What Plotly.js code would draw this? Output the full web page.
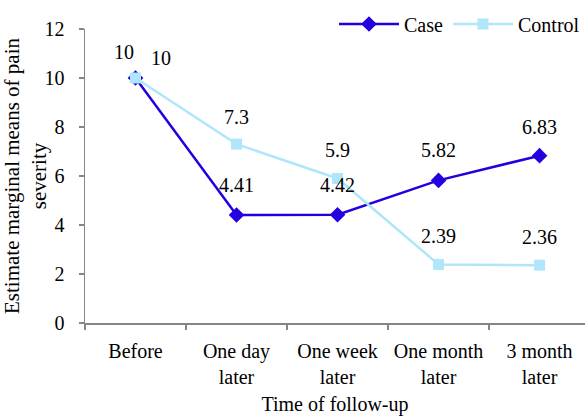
<!DOCTYPE html>
<html>
<head>
<meta charset="utf-8">
<script src="https://cdn.plot.ly/plotly-3.0.1.min.js"></script>
<style>
html,body{margin:0;padding:0;background:#fff;}
#chart{width:585px;height:417px;}
</style>
</head>
<body>
<div id="chart"></div>
<script>
var categories = ["Before", "One day<br>later", "One week<br>later", "One month<br>later", "3 month<br>later"];
var caseValues = [10, 4.41, 4.42, 5.82, 6.83];
var controlValues = [10, 7.3, 5.9, 2.39, 2.36];
var caseLabels = ["10", "4.41", "4.42", "5.82", "6.83"];
var controlLabels = ["10", "7.3", "5.9", "2.39", "2.36"];
var yTickVals = [0, 2, 4, 6, 8, 10, 12];

var FONT = "'Liberation Serif', serif";
var caseColor = "#2200e0";
var controlColor = "#b0e6fa";

// label offsets (layout only)
var caseShiftX = [-12, 0, 0, 0, 0];
var caseShiftY = [26, 30, 30, 30, 29];
var ctrlShiftX = [25, 0, 0, 0, 0];
var ctrlShiftY = [20, 27, 28, 28, 28];

var traces = [
  {
    x: categories, y: caseValues, name: "Case", type: "scatter", mode: "lines+markers",
    line: {color: caseColor, width: 2.5},
    marker: {symbol: "diamond", size: 12, color: caseColor}
  },
  {
    x: categories, y: controlValues, name: "Control", type: "scatter", mode: "lines+markers",
    line: {color: controlColor, width: 2.5},
    marker: {symbol: "square", size: 11, color: controlColor}
  }
];

var annotations = [];
categories.forEach(function(c, i) {
  annotations.push({x: c, y: caseValues[i], text: caseLabels[i], showarrow: false,
    xref: "x", yref: "y", xshift: caseShiftX[i], yshift: caseShiftY[i],
    font: {family: FONT, size: 20, color: "#000"}});
  annotations.push({x: c, y: controlValues[i], text: controlLabels[i], showarrow: false,
    xref: "x", yref: "y", xshift: ctrlShiftX[i], yshift: ctrlShiftY[i],
    font: {family: FONT, size: 20, color: "#000"}});
});

var layout = {
  width: 585, height: 417,
  margin: {l: 85, r: 0, t: 29, b: 94},
  paper_bgcolor: "#fff", plot_bgcolor: "#fff",
  font: {family: FONT, size: 20, color: "#000"},
  showlegend: true,
  legend: {orientation: "h", x: 1, y: 1.017, xanchor: "right", yanchor: "middle",
    itemwidth: 60,
    font: {family: FONT, size: 20, color: "#000"}, bgcolor: "rgba(0,0,0,0)", tracegroupgap: 0},
  xaxis: {
    type: "category", range: [-0.5, 4.45], tickangle: 0,
    showline: true, linecolor: "#868686", linewidth: 1.5,
    ticks: "outside", ticklen: 5, tickcolor: "#868686", tickwidth: 1.5,
    tickson: "boundaries", showgrid: false, zeroline: false, ticklabelstandoff: 9,
    tickfont: {family: FONT, size: 20, color: "#000"},
    title: {text: "Time of follow-up", font: {family: FONT, size: 20, color: "#000"}, standoff: 10}
  },
  yaxis: {
    range: [0, 12], tickvals: yTickVals, ticktext: yTickVals.map(String),
    showline: true, linecolor: "#868686", linewidth: 1.5,
    ticks: "outside", ticklen: 5, tickcolor: "#868686", tickwidth: 1.5,
    showgrid: false, zeroline: false, ticklabelstandoff: 10,
    tickfont: {family: FONT, size: 20, color: "#000"},
    title: {text: "Estimate marginal means of pain<br>severity", font: {family: FONT, size: 21, color: "#000"}, standoff: 0}
  },
  annotations: annotations
};

Plotly.newPlot("chart", traces, layout, {displayModeBar: false, staticPlot: true});
</script>
</body>
</html>
